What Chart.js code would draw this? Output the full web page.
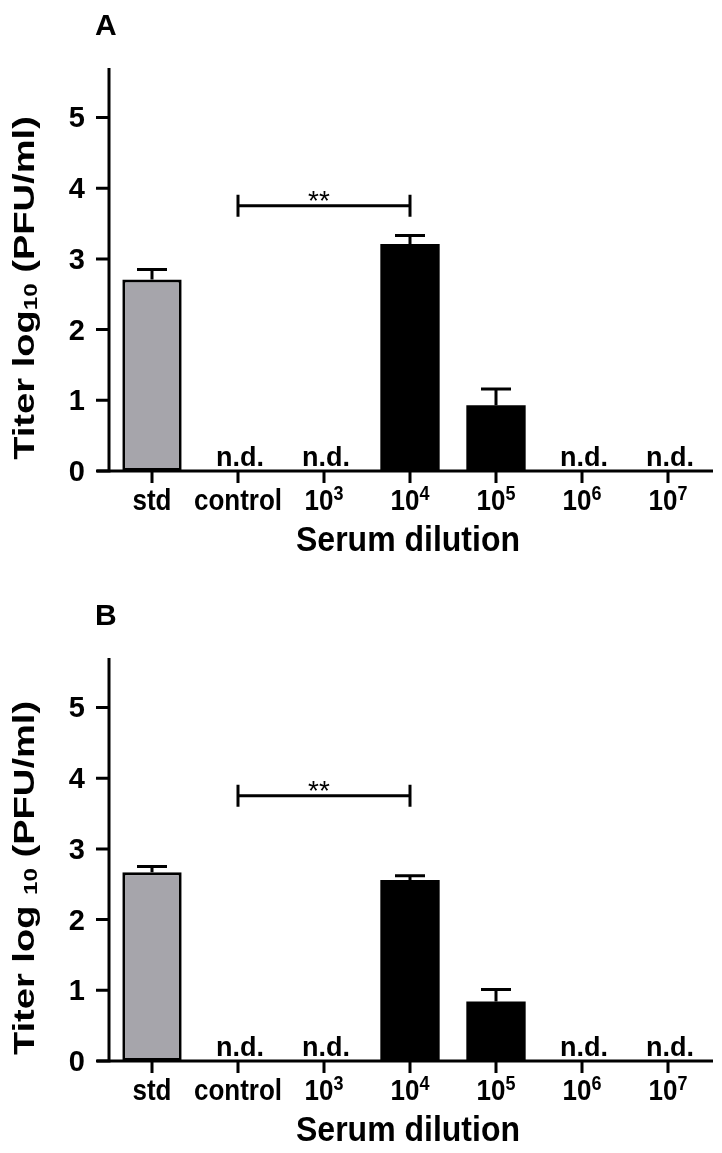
<!DOCTYPE html>
<html lang="en">

<head>
  <meta charset="UTF-8">
  <title>Titer vs serum dilution</title>
  <script src="https://cdn.jsdelivr.net/npm/chart.js"></script>
  <style>
    body { margin: 0; background: #fff; }
    canvas { position: absolute; left: 0; }
  </style>
</head>

<body>
  <canvas id="grafico_a" width="722" height="590" style="top:0px"></canvas>
  <canvas id="grafico_b" width="722" height="563" style="top:590px"></canvas>

<script>
  // categorias do eixo x (base + expoente)
  const categorias = ['std', 'control', '10', '10', '10', '10', '10'];
  const expoentes = ['', '', '3', '4', '5', '6', '7'];

  // painel A
  const titerA = [2.71, null, null, 3.21, 0.93, null, null];
  const erroA = [0.14, null, null, 0.12, 0.23, null, null];
  // painel B
  const titerB = [2.67, null, null, 2.56, 0.84, null, null];
  const erroB = [0.08, null, null, 0.06, 0.17, null, null];

  const ticksY = [0, 1, 2, 3, 4, 5];
  const yMax = 5.7;
  const parSignif = [1, 3];     // control x 10^4
  const nivelSignif = 3.75;
  const coresBarras = ['#a6a5ab', '#000', '#000', '#000', '#000', '#000', '#000'];
  const bordas = [3, 0, 0, 0, 0, 0, 0];

  const FONTE = "'Liberation Sans', Arial, sans-serif";

  function desenhaTexto(ctx, partes, x, y, align, sy) {
    // partes: [{t, size, dy, bold}]
    let total = 0;
    partes.forEach(p => {
      ctx.font = (p.bold === false ? '' : 'bold ') + p.size + 'px ' + FONTE;
      p.w = ctx.measureText(p.t).width;
      total += p.w;
    });
    let x0 = align === 'center' ? x - total / 2 : (align === 'right' ? x - total : x);
    ctx.save();
    ctx.translate(0, y);
    ctx.scale(1, sy || 1);
    ctx.textAlign = 'left';
    ctx.textBaseline = 'alphabetic';
    partes.forEach(p => {
      ctx.font = (p.bold === false ? '' : 'bold ') + p.size + 'px ' + FONTE;
      ctx.fillText(p.t, x0, p.dy || 0);
      x0 += p.w;
    });
    ctx.restore();
  }

  function pluginPainel(letra, erros, tituloY) {
    return {
      id: 'painel' + letra,
      afterDatasetsDraw(chart) {
        const ctx = chart.ctx;
        const xs = chart.scales.x, ys = chart.scales.y;
        const area = chart.chartArea;
        const zero = ys.getPixelForValue(0);
        const valores = chart.data.datasets[0].data;
        ctx.save();
        ctx.strokeStyle = '#000';
        ctx.fillStyle = '#000';
        ctx.lineWidth = 3;
        ctx.lineCap = 'butt';

        // barras de erro
        valores.forEach((v, i) => {
          if (v === null) return;
          const cx = xs.getPixelForValue(i);
          const y1 = ys.getPixelForValue(v);
          const y2 = ys.getPixelForValue(v + erros[i]);
          ctx.beginPath();
          ctx.moveTo(cx, y1); ctx.lineTo(cx, y2);
          ctx.moveTo(cx - 15, y2); ctx.lineTo(cx + 15, y2);
          ctx.stroke();
        });

        // eixo y
        ctx.beginPath();
        ctx.moveTo(area.left, area.top);
        ctx.lineTo(area.left, zero + 1.5);
        ticksY.forEach(t => {
          const ty = ys.getPixelForValue(t);
          ctx.moveTo(area.left - 13, ty);
          ctx.lineTo(area.left, ty);
        });
        ctx.stroke();
        ticksY.forEach(t => {
          const ty = ys.getPixelForValue(t);
          desenhaTexto(ctx, [{ t: String(t), size: 29 }], area.left - 24, ty + 10, 'right');
        });

        // eixo x
        ctx.beginPath();
        ctx.moveTo(area.left - 12, zero);
        ctx.lineTo(area.right + 2, zero);
        categorias.forEach((c, i) => {
          const cx = xs.getPixelForValue(i);
          ctx.moveTo(cx, zero);
          ctx.lineTo(cx, zero + 12);
        });
        ctx.stroke();
        categorias.forEach((c, i) => {
          const cx = xs.getPixelForValue(i);
          const partes = [{ t: c, size: 26 }];
          if (expoentes[i]) partes.push({ t: expoentes[i], size: 18, dy: -9 });
          desenhaTexto(ctx, partes, cx, zero + 39, 'center', 1.1);
          if (valores[i] === null) {
            desenhaTexto(ctx, [{ t: 'n.d.', size: 27 }], cx + 2, zero - 5, 'center');
          }
        });

        // significancia
        const xa = xs.getPixelForValue(parSignif[0]);
        const xb = xs.getPixelForValue(parSignif[1]);
        const yb = ys.getPixelForValue(nivelSignif);
        ctx.beginPath();
        ctx.moveTo(xa, yb); ctx.lineTo(xb, yb);
        ctx.moveTo(xa, yb - 11); ctx.lineTo(xa, yb + 11);
        ctx.moveTo(xb, yb - 11); ctx.lineTo(xb, yb + 11);
        ctx.stroke();
        desenhaTexto(ctx, [{ t: '**', size: 28, bold: false }], (xa + xb) / 2 - 5, yb + 4, 'center');

        // titulo x
        desenhaTexto(ctx, [{ t: 'Serum dilution', size: 32 }], (area.left + area.right) / 2 - 2, zero + 80, 'center', 1.1);

        // letra do painel
        desenhaTexto(ctx, [{ t: letra, size: 30 }], 95, 35, 'left');

        // titulo y (rotacionado, com subscrito)
        ctx.save();
        ctx.translate(34, 288);
        ctx.rotate(-Math.PI / 2);
        ctx.scale(1.27, 1);
        desenhaTexto(ctx, tituloY, 0, 0, 'center');
        ctx.restore();

        ctx.restore();
      }
    };
  }

  function criaGrafico(id, letra, valores, erros, tituloY) {
    const canvas = document.getElementById(id);
    const altura = canvas.height;
    const config = {
      type: 'bar',
      data: {
        labels: categorias.map((c, i) => c + expoentes[i]),
        datasets: [{
          data: valores,
          backgroundColor: coresBarras,
          borderColor: '#000',
          borderWidth: bordas,
          borderSkipped: false,
          barPercentage: 0.69,
          categoryPercentage: 1.0
        }]
      },
      options: {
        responsive: false,
        animation: false,
        devicePixelRatio: 1,
        layout: { padding: { top: 68, right: 11, left: 0, bottom: 0 } },
        plugins: { legend: { display: false }, tooltip: { enabled: false } },
        scales: {
          x: {
            offset: true,
            grid: { display: false },
            border: { display: false },
            ticks: { display: false },
            afterFit: s => { s.height = altura - 471; }
          },
          y: {
            min: 0,
            max: yMax,
            grid: { display: false },
            border: { display: false },
            ticks: { display: false },
            afterFit: s => { s.width = 109; }
          }
        }
      },
      plugins: [pluginPainel(letra, erros, tituloY)]
    };
    return new Chart(canvas, config);
  }

  criaGrafico('grafico_a', 'A', titerA, erroA, [
    { t: 'Titer log', size: 30 }, { t: '10', size: 19, dy: 3 }, { t: ' (PFU/ml)', size: 30 }
  ]);
  criaGrafico('grafico_b', 'B', titerB, erroB, [
    { t: 'Titer log ', size: 30 }, { t: '10', size: 19, dy: 3 }, { t: ' (PFU/ml)', size: 30 }
  ]);
</script>
</body>

</html>
